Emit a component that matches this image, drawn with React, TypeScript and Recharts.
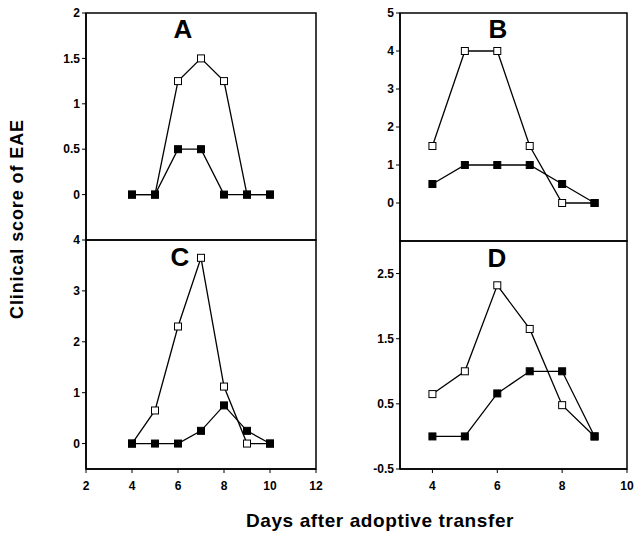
import React from 'react';
import { LineChart, Line, XAxis, YAxis, ReferenceArea } from 'recharts';

const daysA = [4, 5, 6, 7, 8, 9, 10];
const openA = [0, 0, 1.25, 1.5, 1.25, 0, 0];
const filledA = [0, 0, 0.5, 0.5, 0, 0, 0];

const daysB = [4, 5, 6, 7, 8, 9];
const openB = [1.5, 4, 4, 1.5, 0, 0];
const filledB = [0.5, 1, 1, 1, 0.5, 0];

const daysC = [4, 5, 6, 7, 8, 9, 10];
const openC = [0, 0.65, 2.3, 3.65, 1.12, 0, 0];
const filledC = [0, 0, 0, 0.25, 0.75, 0.25, 0];

const daysD = [4, 5, 6, 7, 8, 9];
const openD = [0.65, 1.0, 2.32, 1.65, 0.48, 0];
const filledD = [0, 0, 0.66, 1.0, 1.0, 0];

const ticksA = [0, 0.5, 1, 1.5, 2];
const ticksB = [0, 1, 2, 3, 4, 5];
const ticksC = [0, 1, 2, 3, 4];
const ticksD = [-0.5, 0.5, 1.5, 2.5];
const xTicksLeft = [2, 4, 6, 8, 10, 12];
const xTicksRight = [4, 6, 8, 10];

const build = (days: number[], open: number[], filled: number[]) =>
  days.map((d, i) => ({ day: d, open: open[i], filled: filled[i] }));

const FONT = '"Liberation Sans", Arial, Helvetica, sans-serif';
const W = 636;
const H = 535;

const makeDot = (filled: boolean) => (props: any) => {
  const { cx, cy, index } = props;
  if (cx == null || cy == null) return <g key={`d${index}`} />;
  const s = 7;
  return (
    <rect
      key={`d${filled ? 'f' : 'o'}${index}`}
      x={cx - s / 2}
      y={cy - s / 2}
      width={s}
      height={s}
      fill={filled ? '#000' : '#fff'}
      stroke="#000"
      strokeWidth={1}
    />
  );
};

type PanelProps = {
  data: any[];
  left: number;
  right: number;
  top: number;
  bottom: number;
  xDomain: [number, number];
  yDomain: [number, number];
  yTicks: number[];
  xTicks?: number[];
  showX: boolean;
};

const Panel = ({ data, left, right, top, bottom, xDomain, yDomain, yTicks, xTicks, showX }: PanelProps) => {
  const yW = 40;
  const xH = 30;
  const tickStyle = { fontFamily: FONT, fontWeight: 700, fontSize: 12, fill: '#000' };
  return (
    <div style={{ position: 'absolute', left: 0, top: 0, width: W, height: H }}>
      <LineChart
        width={W}
        height={H}
        data={data}
        margin={{
          left: left - yW,
          right: W - right,
          top: top,
          bottom: H - bottom - (showX ? xH : 0),
        }}
      >
        <XAxis
          dataKey="day"
          type="number"
          domain={xDomain}
          ticks={xTicks}
          hide={!showX}
          height={xH}
          allowDataOverflow
          tick={tickStyle}
          tickSize={4}
          tickMargin={8}
          stroke="#000"
          axisLine={{ stroke: '#000', strokeWidth: 1.5 }}
          tickLine={{ stroke: '#000' }}
        />
        <YAxis
          type="number"
          domain={yDomain}
          ticks={yTicks}
          width={yW}
          allowDataOverflow
          interval={0}
          tick={tickStyle}
          tickSize={4}
          tickMargin={2}
          axisLine={{ stroke: '#000', strokeWidth: 1.5 }}
          tickLine={{ stroke: '#000' }}
        />
        <ReferenceArea
          x1={xDomain[0]}
          x2={xDomain[1]}
          y1={yDomain[0]}
          y2={yDomain[1]}
          fill="none"
          stroke="#000"
          strokeWidth={1.5}
          ifOverflow="visible"
        />
        <Line
          dataKey="open"
          stroke="#000"
          strokeWidth={1.3}
          isAnimationActive={false}
          dot={makeDot(false)}
          activeDot={false}
        />
        <Line
          dataKey="filled"
          stroke="#000"
          strokeWidth={1.3}
          isAnimationActive={false}
          dot={makeDot(true)}
          activeDot={false}
        />
      </LineChart>
    </div>
  );
};

const letterStyle = (x: number, y: number): React.CSSProperties => ({
  position: 'absolute',
  left: x,
  top: y,
  transform: 'translate(-50%, -50%)',
  fontFamily: FONT,
  fontWeight: 700,
  fontSize: 26,
  lineHeight: 1,
  color: '#000',
});

export default function App() {
  return (
    <div style={{ position: 'absolute', left: 0, top: 0, width: W, height: H, background: '#fff', overflow: 'hidden' }}>
      <Panel data={build(daysA, openA, filledA)} left={86} right={316} top={13} bottom={240}
        xDomain={[2, 12]} yDomain={[-0.5, 2]} yTicks={ticksA} showX={false} />
      <Panel data={build(daysC, openC, filledC)} left={86} right={316} top={240} bottom={469}
        xDomain={[2, 12]} yDomain={[-0.5, 4]} yTicks={ticksC} xTicks={xTicksLeft} showX={true} />
      <Panel data={build(daysB, openB, filledB)} left={400} right={627} top={13} bottom={241}
        xDomain={[3, 10]} yDomain={[-1, 5]} yTicks={ticksB} showX={false} />
      <Panel data={build(daysD, openD, filledD)} left={400} right={627} top={241} bottom={469}
        xDomain={[3, 10]} yDomain={[-0.5, 3]} yTicks={ticksD} xTicks={xTicksRight} showX={true} />
      <div style={letterStyle(183, 29)}>A</div>
      <div style={letterStyle(498, 29)}>B</div>
      <div style={letterStyle(180, 257)}>C</div>
      <div style={letterStyle(497, 258)}>D</div>
      <div
        style={{
          position: 'absolute',
          left: 17,
          top: 219,
          transform: 'translate(-50%, -50%) rotate(-90deg)',
          fontFamily: FONT,
          fontWeight: 700,
          fontSize: 18,
          letterSpacing: 0.9,
          lineHeight: 1,
          whiteSpace: 'nowrap',
          color: '#000',
        }}
      >
        Clinical score of EAE
      </div>
      <div
        style={{
          position: 'absolute',
          left: 380,
          top: 520,
          transform: 'translate(-50%, -50%)',
          fontFamily: FONT,
          fontWeight: 700,
          fontSize: 19,
          letterSpacing: 0.6,
          lineHeight: 1,
          whiteSpace: 'nowrap',
          color: '#000',
        }}
      >
        Days after adoptive transfer
      </div>
    </div>
  );
}
